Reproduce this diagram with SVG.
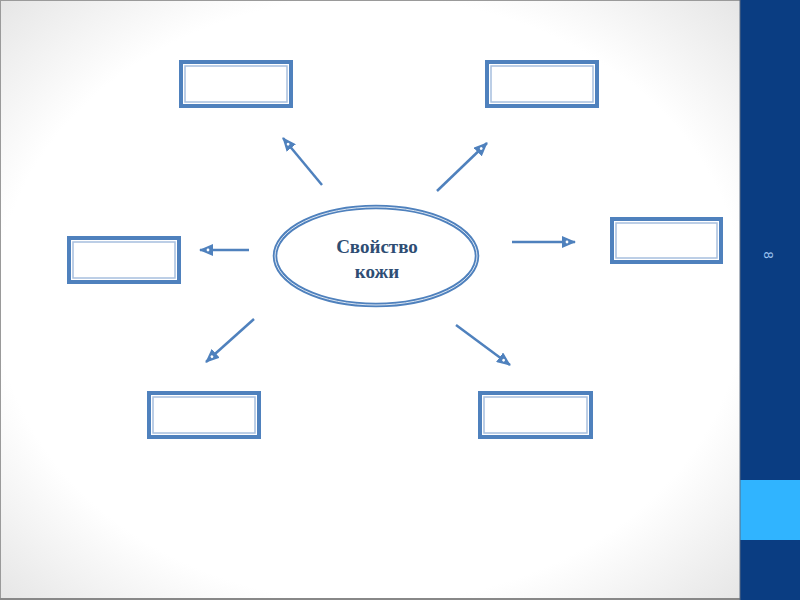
<svg xmlns="http://www.w3.org/2000/svg" width="800" height="600" viewBox="0 0 800 600">
<defs>
<radialGradient id="bg" cx="0.5" cy="0.5" r="0.72">
<stop offset="0.7" stop-color="#ffffff"/>
<stop offset="1" stop-color="#e4e4e4"/>
</radialGradient>
<marker id="ah" viewBox="0 0 14 12" refX="13" refY="6" markerWidth="14" markerHeight="12" markerUnits="userSpaceOnUse" orient="auto">
<path d="M0,0 L14,6 L0,12 z" fill="#4F81BD"/>
<circle cx="5" cy="6" r="1.4" fill="#ffffff"/>
</marker>
</defs>
<style>
.box-o{fill:#ffffff;stroke:#4F81BD;stroke-width:4}
.box-i{fill:none;stroke:#A7BFDE;stroke-width:1.5}
.arr{stroke:#4F81BD;stroke-width:2.5;fill:none;marker-end:url(#ah)}
.lbl{font-family:"Liberation Serif",serif;font-weight:bold;font-size:19px;fill:#2E4D73;text-anchor:middle}
</style>
<rect x="0" y="0" width="740" height="600" fill="url(#bg)"/>
<line x1="0.5" y1="0" x2="0.5" y2="600" stroke="#9a9a9a" stroke-width="1"/>
<line x1="0" y1="0.5" x2="740" y2="0.5" stroke="#9a9a9a" stroke-width="1"/>
<line x1="0" y1="599" x2="740" y2="599" stroke="#888888" stroke-width="2"/>
<rect x="740" y="0" width="60" height="600" fill="#0A3D82"/>
<rect x="740" y="480" width="60" height="60" fill="#30B4FF"/>
<line x1="740" y1="0" x2="740" y2="600" stroke="#5a6a80" stroke-width="1"/>
<text x="768" y="255" transform="rotate(90 768 255)" font-family="'Liberation Sans',sans-serif" font-size="13" fill="#9CC3F0" text-anchor="middle" dominant-baseline="central">8</text>

<g id="center">
<ellipse cx="376" cy="256" rx="101" ry="49" fill="#ffffff" stroke="#4F81BD" stroke-width="4.5"/>
<ellipse cx="376" cy="256" rx="101" ry="49" fill="none" stroke="#DCE6F2" stroke-width="1"/>
<text class="lbl" x="377" y="253">Свойство</text>
<text class="lbl" x="377" y="278">кожи</text>
</g>

<g id="box-tl"><rect class="box-o" x="181" y="62" width="110" height="44"/><rect class="box-i" x="185" y="66" width="102" height="36"/></g>
<g id="box-tr"><rect class="box-o" x="487" y="62" width="110" height="44"/><rect class="box-i" x="491" y="66" width="102" height="36"/></g>
<g id="box-r"><rect class="box-o" x="612" y="219" width="109" height="43"/><rect class="box-i" x="616" y="223" width="101" height="35"/></g>
<g id="box-l"><rect class="box-o" x="69" y="238" width="110" height="44"/><rect class="box-i" x="73" y="242" width="102" height="36"/></g>
<g id="box-bl"><rect class="box-o" x="149" y="393" width="110" height="44"/><rect class="box-i" x="153" y="397" width="102" height="36"/></g>
<g id="box-br"><rect class="box-o" x="480" y="393" width="111" height="44"/><rect class="box-i" x="484" y="397" width="103" height="36"/></g>

<g id="connectors">
<line class="arr" x1="322" y1="185" x2="283" y2="138"/>
<line class="arr" x1="437" y1="191" x2="487" y2="143"/>
<line class="arr" x1="512" y1="242" x2="575" y2="242"/>
<line class="arr" x1="249" y1="250" x2="200" y2="250"/>
<line class="arr" x1="254" y1="319" x2="206" y2="362"/>
<line class="arr" x1="456" y1="325" x2="510" y2="365"/>
</g>
</svg>
